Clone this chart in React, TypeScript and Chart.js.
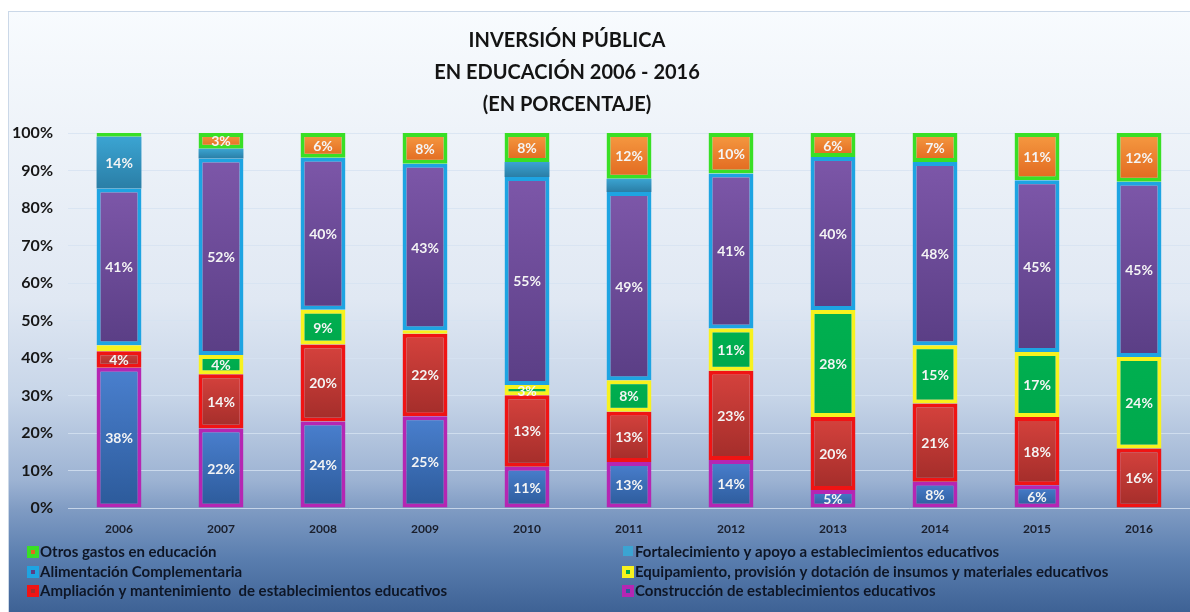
import React, { useEffect, useRef } from 'react';
import { Chart, registerables } from 'chart.js';

Chart.register(...registerables);

const years = ['2006', '2007', '2008', '2009', '2010', '2011', '2012', '2013', '2014', '2015', '2016'];
const yTicks = [0, 10, 20, 30, 40, 50, 60, 70, 80, 90, 100];

const titleLines = ['INVERSIÓN PÚBLICA', 'EN EDUCACIÓN 2006 - 2016', '(EN PORCENTAJE)'];

// Segment heights (share of the 100% stacked bar), bottom to top
const construccion = [37.4, 21.2, 23.1, 24.5, 11.0, 12.3, 12.8, 4.8, 7.0, 6.1, 0];
const ampliacion = [4.4, 14.5, 20.5, 22.0, 19.1, 13.4, 23.8, 19.5, 20.9, 18.2, 15.9];
const equipamiento = [1.6, 5.1, 9.3, 0.9, 2.7, 8.4, 11.3, 28.5, 15.5, 17.3, 24.4];
const alimentacion = [41.8, 52.4, 40.5, 44.4, 55.5, 50.2, 41.3, 40.8, 48.9, 45.8, 46.7];
const fortalecimiento = [13.8, 2.6, 0, 0, 4.0, 3.5, 0, 0, 0, 0, 0];
const otros = [1.0, 4.2, 6.6, 8.2, 7.7, 12.2, 10.8, 6.4, 7.7, 12.6, 13.0];

// Percent labels printed on the segments
const construccionLabels = [38, 22, 24, 25, 11, 13, 14, 5, 8, 6, null];
const ampliacionLabels = [4, 14, 20, 22, 13, 13, 23, 20, 21, 18, 16];
const equipamientoLabels = [null, 4, 9, null, 3, 8, 11, 28, 15, 17, 24];
const alimentacionLabels = [41, 52, 40, 43, 55, 49, 41, 40, 48, 45, 45];
const fortalecimientoLabels = [14, null, null, null, null, null, null, null, null, null, null];
const otrosLabels = [null, 3, 6, 8, 8, 12, 10, 6, 7, 11, 12];

const seriesNames = [
  'Construcción de establecimientos educativos',
  'Ampliación y mantenimiento  de establecimientos educativos',
  'Equipamiento, provisión y dotación de insumos y materiales educativos',
  'Alimentación Complementaria',
  'Fortalecimiento y apoyo a establecimientos educativos',
  'Otros gastos en educación',
];

const seriesValues = [construccion, ampliacion, equipamiento, alimentacion, fortalecimiento, otros];
const seriesLabels = [construccionLabels, ampliacionLabels, equipamientoLabels, alimentacionLabels, fortalecimientoLabels, otrosLabels];
const fillTop = ['#4a80cf', '#d6423d', '#00b050', '#7d57a9', '#3ba4d2', '#f69b42'];
const fillBottom = ['#2c5a9a', '#a32d2a', '#00a84c', '#5a3e85', '#2a7ea6', '#e1681f'];
const borderColors = ['#b526b3', '#f01414', '#f7f21e', '#1ea4e2', 'rgba(0,0,0,0)', '#39df25'];
const borderWidths = [4, 4, 4, 4, 0, 4];

const FONT = 'Lato, "Open Sans", sans-serif';

function segmentGradient(di: number) {
  return (c: any) => {
    const chart = c.chart;
    const y = chart.scales && chart.scales.y;
    if (!y || c.dataIndex === undefined || c.type !== 'data') return fillTop[di];
    const i = c.dataIndex;
    let start = 0;
    for (let d = 0; d < di; d++) start += seriesValues[d][i];
    const end = start + seriesValues[di][i];
    const y0 = y.getPixelForValue(end);
    const y1 = y.getPixelForValue(start);
    if (!isFinite(y0) || !isFinite(y1) || Math.abs(y1 - y0) < 1) return fillTop[di];
    const g = chart.ctx.createLinearGradient(0, y0, 0, y1);
    g.addColorStop(0, fillTop[di]);
    g.addColorStop(1, fillBottom[di]);
    return g;
  };
}

const valueLabelPlugin = {
  id: 'valueLabels',
  afterDatasetsDraw(chart: any) {
    const ctx = chart.ctx;
    ctx.save();
    ctx.font = `bold 14px ${FONT}`;
    ctx.fillStyle = '#f4f4f4';
    ctx.textAlign = 'center';
    ctx.textBaseline = 'middle';
    chart.data.datasets.forEach((_ds: any, di: number) => {
      const meta = chart.getDatasetMeta(di);
      const labs = seriesLabels[di];
      meta.data.forEach((el: any, i: number) => {
        const v = labs[i];
        if (v === null || v === undefined) return;
        const p = el.getProps(['x', 'y', 'base'], true);
        ctx.fillText(`${v}%`, p.x, (p.y + p.base) / 2 + 1);
      });
    });
    ctx.restore();
  },
};

const titlePlugin = {
  id: 'customTitle',
  afterDraw(chart: any) {
    const ctx = chart.ctx;
    ctx.save();
    ctx.font = `bold 20px ${FONT}`;
    ctx.fillStyle = '#141414';
    ctx.textAlign = 'center';
    ctx.textBaseline = 'middle';
    titleLines.forEach((t, k) => ctx.fillText(t, 559, 30 + k * 32));
    ctx.restore();
  },
};

const legendPlugin = {
  id: 'customLegend',
  afterDraw(chart: any) {
    const ctx = chart.ctx;
    const order = [5, 4, 3, 2, 1, 0];
    const colX = [19, 614];
    const rowY = [541, 561, 580];
    ctx.save();
    ctx.font = `bold 15px ${FONT}`;
    ctx.textBaseline = 'middle';
    ctx.textAlign = 'left';
    order.forEach((di, k) => {
      const x = colX[k % 2];
      const y = rowY[Math.floor(k / 2)];
      if (borderWidths[di] > 0) {
        ctx.fillStyle = borderColors[di];
        ctx.fillRect(x, y - 6, 12, 12);
        ctx.fillStyle = fillBottom[di];
        ctx.fillRect(x + 4, y - 2, 4, 4);
      } else {
        ctx.fillStyle = fillTop[di];
        ctx.fillRect(x + 1, y - 6, 10, 10);
      }
      ctx.fillStyle = '#0e1626';
      ctx.fillText(seriesNames[di], x + 13, y);
    });
    ctx.restore();
  },
};

export default function App() {
  const ref = useRef<HTMLCanvasElement | null>(null);

  useEffect(() => {
    if (!ref.current) return;
    const chart = new Chart(ref.current, {
      type: 'bar',
      data: {
        labels: years,
        datasets: seriesValues.map((vals, di) => ({
          label: seriesNames[di],
          data: vals,
          backgroundColor: segmentGradient(di),
          borderColor: borderColors[di],
          borderWidth: borderWidths[di],
          borderSkipped: false,
          categoryPercentage: 1,
          barPercentage: 0.44,
        })),
      },
      options: {
        responsive: false,
        animation: false,
        devicePixelRatio: 1,
        layout: { padding: { top: 122, bottom: 74, left: 0, right: 0 } },
        plugins: {
          legend: { display: false },
          title: { display: false },
          tooltip: { enabled: false },
        },
        scales: {
          x: {
            stacked: true,
            grid: { display: false, drawTicks: false },
            border: { display: false },
            ticks: {
              color: '#1a1f2c',
              font: { family: FONT, size: 12, weight: 'bold' },
              padding: 14,
            },
            afterFit: (s: any) => {
              s.height = 30;
            },
          },
          y: {
            stacked: true,
            min: 0,
            max: 100,
            afterBuildTicks: (s: any) => {
              s.ticks = yTicks.map((v) => ({ value: v }));
            },
            grid: { color: 'rgba(214,226,241,0.8)', lineWidth: 1, drawTicks: false },
            border: { display: false },
            ticks: {
              color: '#161616',
              font: { family: FONT, size: 16, weight: 'bold' },
              padding: 15,
              callback: (v: any) => `${v}%`,
            },
            afterFit: (s: any) => {
              s.width = 60;
            },
          },
        },
      },
      plugins: [valueLabelPlugin, titlePlugin, legendPlugin],
    });
    const fonts: any = (document as any).fonts;
    if (fonts && fonts.load) {
      Promise.all([fonts.load(`bold 15px Lato`), fonts.load(`bold 20px Lato`)])
        .then(() => chart.update())
        .catch(() => {});
    }
    return () => chart.destroy();
  }, []);

  return (
    <div
      style={{
        position: 'absolute',
        left: 8,
        top: 11,
        width: 1182,
        height: 601,
        overflow: 'hidden',
        background:
          'linear-gradient(to bottom, #f8fbfe 0%, #eef3f9 20%, #e0e8f3 48%, #c7d5e8 64%, #9db3d3 78%, #7f9bc3 83%, #5a7eaf 91%, #3e6295 100%)',
        boxShadow: 'inset 1px 1px 0 #cbd8e8',
      }}
    >
      <canvas ref={ref} width={1182} height={601} style={{ display: 'block', width: 1182, height: 601 }} />
    </div>
  );
}
